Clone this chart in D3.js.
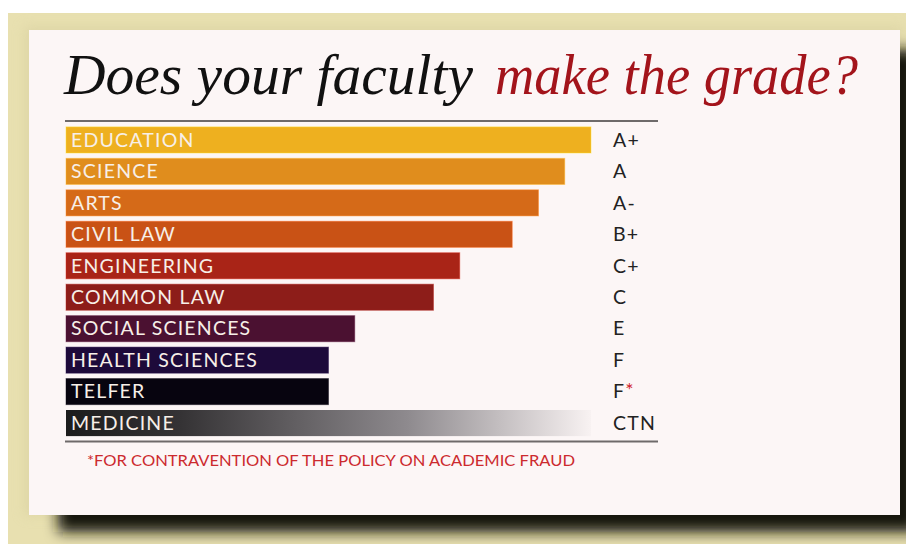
<!DOCTYPE html>
<html>
<head>
<meta charset="utf-8">
<script src="https://cdn.jsdelivr.net/npm/d3@7"></script>
<style>
  html, body { margin: 0; padding: 0; background: #ffffff; }
  svg { display: block; }
</style>
</head>
<body>
<script>
// ---- data ----
const faculties = ["EDUCATION", "SCIENCE", "ARTS", "CIVIL LAW", "ENGINEERING", "COMMON LAW",
                   "SOCIAL SCIENCES", "HEALTH SCIENCES", "TELFER", "MEDICINE"];
const scores    = [20, 19, 18, 17, 15, 14, 11, 10, 10, 20];
const grades    = ["A+", "A", "A-", "B+", "C+", "C", "E", "F", "F", "CTN"];
const gradeMarks = ["", "", "", "", "", "", "", "", "*", ""];
const barColors = ["#eeb01f", "#e08d1d", "#d56a18", "#c95215", "#a92417", "#8d1d19",
                   "#4b1131", "#1d0a3a", "#07040f", "url(#medGrad)"];
const titleParts = ["Does your faculty", "make the grade?"];
const footnote = "*FOR CONTRAVENTION OF THE POLICY ON ACADEMIC FRAUD";

const W = 906, H = 544;
const svg = d3.select("body").append("svg").attr("width", W).attr("height", H);
const defs = svg.append("defs");

// shadow filters
const f = defs.append("filter").attr("id", "blur").attr("x", "-10%").attr("y", "-10%")
  .attr("width", "120%").attr("height", "130%");
f.append("feGaussianBlur").attr("stdDeviation", 7);

const g2 = defs.append("filter").attr("id", "soft").attr("x", "-10%").attr("y", "-10%")
  .attr("width", "120%").attr("height", "130%");
g2.append("feGaussianBlur").attr("stdDeviation", 6);

// medicine gradient
const lg = defs.append("linearGradient").attr("id", "medGrad")
  .attr("x1", "0%").attr("x2", "100%").attr("y1", "0%").attr("y2", "0%");
lg.append("stop").attr("offset", "0%").attr("stop-color", "#1c1c1c");
lg.append("stop").attr("offset", "22%").attr("stop-color", "#353335");
lg.append("stop").attr("offset", "65%").attr("stop-color", "#8e8a8e");
lg.append("stop").attr("offset", "100%").attr("stop-color", "#f8f2f2");

// beige background
svg.append("rect").attr("x", 8).attr("y", 13).attr("width", W - 8).attr("height", H - 13)
  .attr("fill", "#e8e0b0");

// soft glow around card
svg.append("rect").attr("x", 24).attr("y", 26).attr("width", 880).attr("height", 490)
  .attr("fill", "#d8d0a0").attr("filter", "url(#soft)").attr("opacity", 0.6);

// dark shadow
svg.append("rect").attr("x", 58).attr("y", 50).attr("width", 860).attr("height", 482)
  .attr("fill", "#16140c").attr("filter", "url(#blur)");

// card
svg.append("rect").attr("x", 29).attr("y", 30).attr("width", 871).attr("height", 485)
  .attr("fill", "#fcf6f6");

// ---- title ----
const titleFont = "'Liberation Serif', 'Times New Roman', serif";
svg.append("text")
  .attr("x", 64).attr("y", 94)
  .attr("font-family", titleFont).attr("font-style", "italic").attr("font-size", 57)
  .attr("fill", "#111")
  .attr("textLength", 409).attr("lengthAdjust", "spacingAndGlyphs")
  .text(titleParts[0]);
svg.append("text")
  .attr("x", 495).attr("y", 94)
  .attr("font-family", titleFont).attr("font-style", "italic").attr("font-size", 57)
  .attr("fill", "#a3141b")
  .attr("textLength", 363).attr("lengthAdjust", "spacingAndGlyphs")
  .text(titleParts[1]);

// ---- scales ----
const x = d3.scaleLinear().domain([0, 20]).range([66, 591]);
const y = d3.scaleBand().domain(faculties).range([125, 438]).paddingInner(0.17).paddingOuter(0.06);

// rules
svg.append("line").attr("x1", 65).attr("x2", 658).attr("y1", 121).attr("y2", 121)
  .attr("stroke", "#6e6a6a").attr("stroke-width", 2);
svg.append("line").attr("x1", 65).attr("x2", 658).attr("y1", 441.5).attr("y2", 441.5)
  .attr("stroke", "#6e6a6a").attr("stroke-width", 2);

// bars
const rows = svg.append("g").selectAll("g").data(faculties).join("g");
rows.append("rect")
  .attr("x", x(0))
  .attr("y", d => y(d))
  .attr("width", (d, i) => x(scores[i]) - x(0))
  .attr("height", y.bandwidth())
  .attr("fill", (d, i) => barColors[i])
  .attr("stroke", (d, i) => i === 9 ? "none" : d3.color(barColors[i]).brighter(0.7))
  .attr("stroke-opacity", 0.45)
  .attr("stroke-width", 1);

const labelFont = "Lato, 'Open Sans', sans-serif";
rows.append("text")
  .attr("x", 71)
  .attr("y", d => y(d) + y.bandwidth() / 2 + 6.8)
  .attr("font-family", labelFont)
  .attr("font-size", 19.5)
  .attr("letter-spacing", 1.2)
  .attr("fill", "#f7efe8")
  .text(d => d);

// grades
const gt = rows.append("text")
  .attr("x", 613)
  .attr("y", d => y(d) + y.bandwidth() / 2 + 6.8)
  .attr("font-family", labelFont)
  .attr("font-size", 19.5)
  .attr("letter-spacing", 1.2)
  .attr("fill", "#222");
gt.append("tspan").text((d, i) => grades[i]);
gt.append("tspan").attr("fill", "#d0202a").attr("dy", -1).text((d, i) => gradeMarks[i]);

// footnote
svg.append("text")
  .attr("x", 87).attr("y", 465.5)
  .attr("font-family", labelFont)
  .attr("font-size", 15.5)
  .attr("fill", "#cc2a2e")
  .attr("textLength", 488)
  .attr("lengthAdjust", "spacingAndGlyphs")
  .text(footnote);
</script>
</body>
</html>
